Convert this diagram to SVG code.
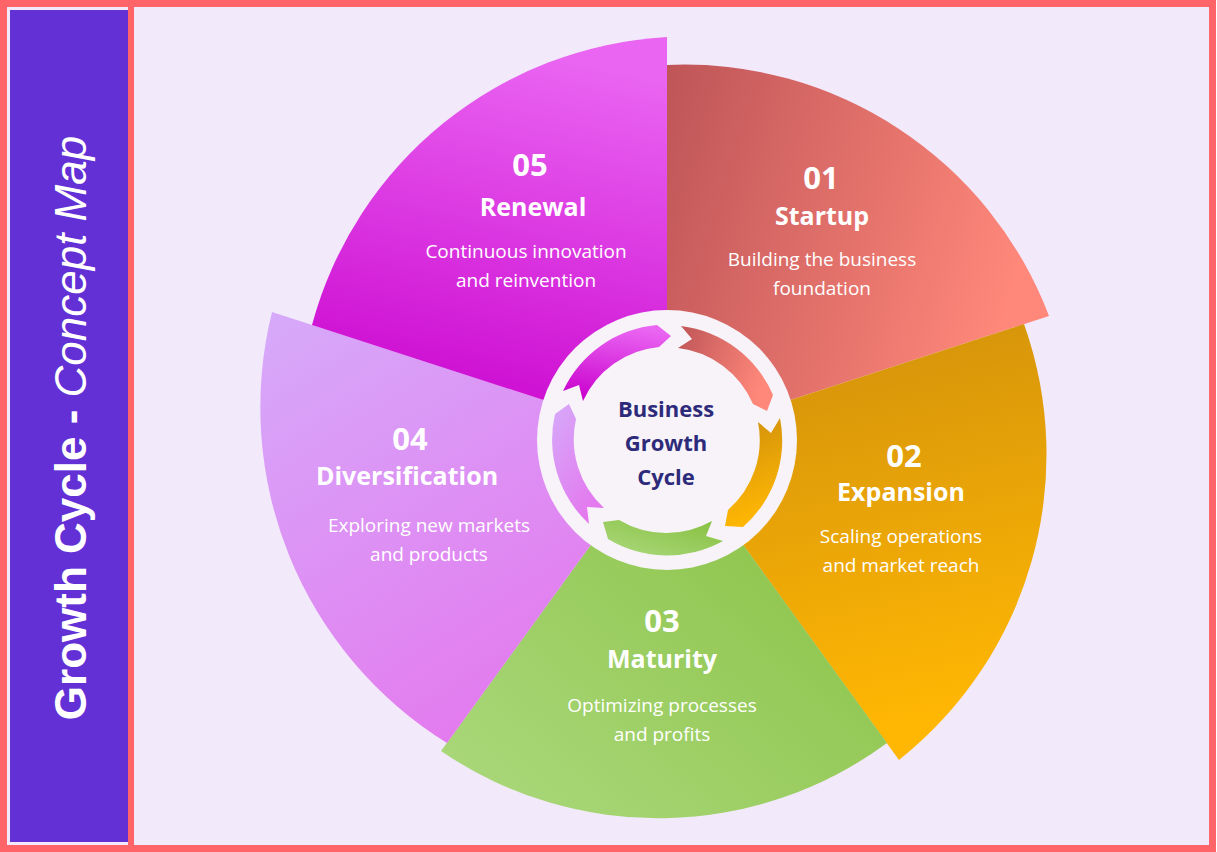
<svg xmlns="http://www.w3.org/2000/svg" width="1217" height="852" viewBox="0 0 1217 852">
<style>
.num{font-family:"Open Sans",sans-serif;font-weight:700;font-size:31px;fill:#fff;text-anchor:middle}
.ttl{font-family:"Open Sans",sans-serif;font-weight:700;font-size:25px;fill:#fff;text-anchor:middle}
.dsc{font-family:"Open Sans",sans-serif;font-size:19px;fill:#fff;text-anchor:middle}
.ctr{font-family:"Open Sans",sans-serif;font-weight:700;font-size:22px;fill:#2e2a7a;text-anchor:middle}
</style>
<defs>
<linearGradient id="g1" x1="0" y1="0" x2="1" y2="0.3"><stop offset="0" stop-color="#bf5558"/><stop offset="1" stop-color="#ff887a"/></linearGradient>
<linearGradient id="g2" x1="0" y1="0" x2="0.2" y2="1"><stop offset="0" stop-color="#cf8f0c"/><stop offset="1" stop-color="#ffb703"/></linearGradient>
<linearGradient id="g3" x1="1" y1="0" x2="0" y2="1"><stop offset="0" stop-color="#86bf3e"/><stop offset="1" stop-color="#acd97e"/></linearGradient>
<linearGradient id="g4" x1="0" y1="0" x2="0.6" y2="1"><stop offset="0" stop-color="#d6aafa"/><stop offset="1" stop-color="#e478ee"/></linearGradient>
<linearGradient id="g5" x1="0.5" y1="0" x2="0.3" y2="1"><stop offset="0" stop-color="#ea66f2"/><stop offset="1" stop-color="#c900cd"/></linearGradient>
</defs>
<rect x="3.5" y="3.5" width="1209" height="845" fill="#f2e9fb" stroke="#ff6468" stroke-width="7"/>
<rect x="10" y="10" width="118" height="832" fill="#6330d6"/>
<rect x="128" y="7" width="6" height="838" fill="#ff6468"/>
<text transform="translate(70,428) rotate(-90)" font-family="Liberation Sans,Arial,sans-serif" font-size="44" fill="#fff" text-anchor="middle" dominant-baseline="central"><tspan font-weight="700">Growth Cycle - </tspan><tspan font-style="italic">Concept Map</tspan></text>
<g id="wedge01"><path d="M667,440 L667,65 A390,390 0 0 1 1049,316 Z" fill="url(#g1)"/></g>
<g id="wedge02"><path d="M667,440 L1024,324 A390,390 0 0 1 899,760 Z" fill="url(#g2)"/></g>
<g id="wedge03"><path d="M667,440 L887,743 A385,385 0 0 1 441,751 Z" fill="url(#g3)"/></g>
<g id="wedge04"><path d="M667,440 L447,743 A395,395 0 0 1 272,312 Z" fill="url(#g4)"/></g>
<g id="wedge05"><path d="M667,440 L312,325 A390,390 0 0 1 667,37 Z" fill="url(#g5)"/></g>
<g id="center">
<circle cx="667" cy="440" r="130" fill="#f7f3f9"/>
<path d="M681,326 A115,115 0 0 1 773,395 L767,411 L753,404 A93,93 0 0 0 678,348 L692,339 Z" fill="url(#g1)"/>
<path d="M780,418 A115,115 0 0 1 743,527 L725,526 L728,510 A93,93 0 0 0 758,422 L771,433 Z" fill="url(#g2)"/>
<path d="M723,541 A115,115 0 0 1 608,539 L603,522 L619,520 A93,93 0 0 0 712,521 L706,536 Z" fill="url(#g3)"/>
<path d="M589,524 A115,115 0 0 1 555,414 L569,404 L576,419 A93,93 0 0 0 604,508 L587,507 Z" fill="url(#g4)"/>
<path d="M563,391 A115,115 0 0 1 657,325 L671,336 L659,347 A93,93 0 0 0 583,401 L579,385 Z" fill="url(#g5)"/>
<text class="ctr" x="666" y="417">Business</text>
<text class="ctr" x="666" y="451">Growth</text>
<text class="ctr" x="666" y="485">Cycle</text>
</g>
<g id="t01"><text class="num" x="821" y="189">01</text><text class="ttl" x="822" y="225">Startup</text><text class="dsc" x="822" y="266">Building the business</text><text class="dsc" x="822" y="295">foundation</text></g>
<g id="t02"><text class="num" x="904" y="467">02</text><text class="ttl" x="901" y="501">Expansion</text><text class="dsc" x="901" y="543">Scaling operations</text><text class="dsc" x="901" y="572">and market reach</text></g>
<g id="t03"><text class="num" x="662" y="632">03</text><text class="ttl" x="662" y="668">Maturity</text><text class="dsc" x="662" y="712">Optimizing processes</text><text class="dsc" x="662" y="741">and profits</text></g>
<g id="t04"><text class="num" x="410" y="450">04</text><text class="ttl" x="407" y="485">Diversification</text><text class="dsc" x="429" y="532">Exploring new markets</text><text class="dsc" x="429" y="561">and products</text></g>
<g id="t05"><text class="num" x="530" y="176">05</text><text class="ttl" x="533" y="216">Renewal</text><text class="dsc" x="526" y="258">Continuous innovation</text><text class="dsc" x="526" y="287">and reinvention</text></g>
</svg>
